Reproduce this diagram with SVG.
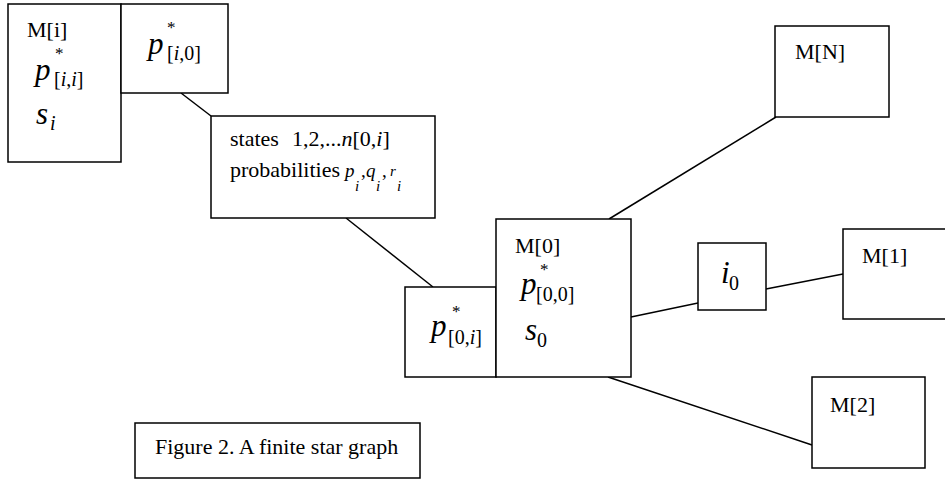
<svg xmlns="http://www.w3.org/2000/svg" width="945" height="479" viewBox="0 0 945 479">
<style>
.box{fill:#fff;stroke:#000;stroke-width:1.5}
.ln{stroke:#000;stroke-width:1.5;fill:none}
text{font-family:"Liberation Serif","Times New Roman",serif;fill:#000}
.lbl{font-size:22px}
.it{font-style:italic}
.big{font-size:31px;font-style:italic}
.sub{font-size:20px}
.star{font-size:17px}
.sm{font-size:19px;font-style:italic}
.ss{font-size:15px;font-style:italic}
</style>
<rect width="945" height="479" fill="#fff"/>
<g id="connectors">
<line class="ln" x1="181" y1="93" x2="211" y2="116"/>
<line class="ln" x1="346" y1="218" x2="433" y2="287"/>
<line class="ln" x1="609" y1="219" x2="776" y2="117"/>
<line class="ln" x1="631" y1="317" x2="698" y2="303"/>
<line class="ln" x1="766" y1="289" x2="843" y2="274"/>
<line class="ln" x1="608" y1="377" x2="812" y2="445"/>
</g>
<g id="node-Mi">
<rect class="box" x="8" y="4" width="113" height="158"/>
<text class="lbl" x="27" y="37">M[i]</text>
<text class="star" x="55" y="59">*</text>
<text class="big" x="35" y="80">p</text>
<text class="sub" x="54" y="86">[<tspan class="it">i</tspan>,<tspan class="it">i</tspan>]</text>
<text class="big" x="36" y="124">s</text>
<text class="sub it" x="50" y="130">i</text>
</g>
<g id="node-pi0">
<rect class="box" x="121" y="4" width="107" height="89"/>
<text class="star" x="167" y="33">*</text>
<text class="big" x="148" y="54">p</text>
<text class="sub" x="167" y="60">[<tspan class="it">i</tspan>,0]</text>
</g>
<g id="node-states">
<rect class="box" x="211" y="116" width="224" height="102"/>
<text class="lbl" x="230" y="146">states</text>
<text class="lbl" x="292" y="146">1,2,...<tspan class="it">n</tspan>[0,<tspan class="it">i</tspan>]</text>
<text class="lbl" x="230" y="177">probabilities</text>
<text class="sm" x="345" y="177">p</text>
<text class="ss" x="355" y="191">i</text>
<text font-size="19" x="361" y="177">,</text>
<text class="sm" x="366" y="177">q</text>
<text class="ss" x="376" y="191">i</text>
<text font-size="19" x="382" y="177">,</text>
<text class="ss" x="390" y="176">r</text>
<text class="ss" x="397" y="191">i</text>
</g>
<g id="node-p0i">
<rect class="box" x="405" y="287" width="91" height="90"/>
<text class="star" x="452" y="317">*</text>
<text class="big" x="431" y="336">p</text>
<text class="sub" x="448" y="344">[0,<tspan class="it">i</tspan>]</text>
</g>
<g id="node-M0">
<rect class="box" x="496" y="219" width="135" height="158"/>
<text class="lbl" x="515" y="253">M[0]</text>
<text class="star" x="540" y="275">*</text>
<text class="big" x="521" y="294">p</text>
<text class="sub" x="536" y="301">[0,0]</text>
<text class="big" x="525" y="340">s</text>
<text class="sub" x="537" y="347">0</text>
</g>
<g id="node-i0">
<rect class="box" x="698" y="243" width="68" height="67"/>
<text class="big" x="721" y="283">i</text>
<text class="sub" x="729" y="290">0</text>
</g>
<g id="node-M1">
<rect class="box" x="843" y="229" width="110" height="90"/>
<text class="lbl" x="862" y="263">M[1]</text>
</g>
<g id="node-MN">
<rect class="box" x="775" y="26" width="114" height="91"/>
<text class="lbl" x="795" y="59">M[N]</text>
</g>
<g id="node-M2">
<rect class="box" x="812" y="377" width="113" height="91"/>
<text class="lbl" x="830" y="412">M[2]</text>
</g>
<g id="caption">
<rect class="box" x="135" y="423" width="285" height="55"/>
<text class="lbl" x="155" y="454">Figure 2. A finite star graph</text>
</g>
</svg>
